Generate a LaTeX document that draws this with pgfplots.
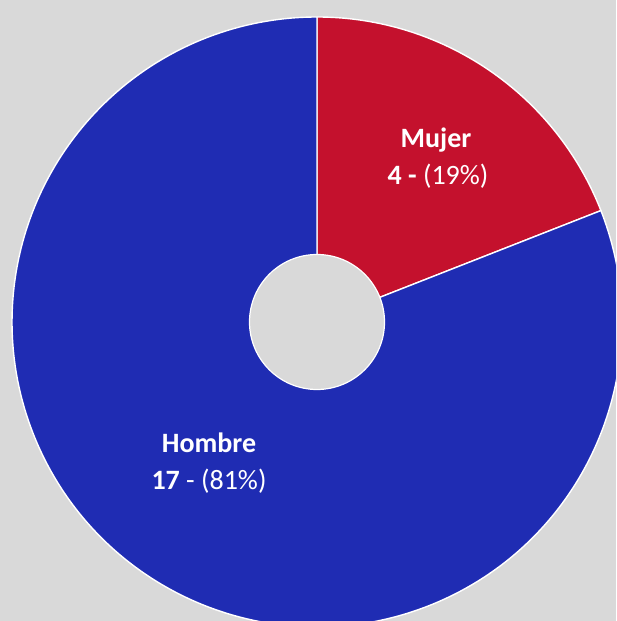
\documentclass[border=0pt]{standalone}
\usepackage{pgfplots}
\pgfplotsset{compat=1.18}
\usepackage{fontspec}
\setmainfont{Carlito}
\definecolor{bg}{HTML}{D9D9D9}
\definecolor{mujer}{HTML}{C4112D}
\definecolor{hombre}{HTML}{1F2CB3}
% values
\def\vmujer{4}
\def\vhombre{17}
\begin{document}
\begin{tikzpicture}
\useasboundingbox (0,0) rectangle (308pt,310.5pt);
\clip (0,0) rectangle (308pt,310.5pt);
\begin{axis}[
	at={(0,0)}, anchor=south west,
	scale only axis,
	width=308pt, height=310.5pt,
	xmin=0, xmax=616, ymin=0, ymax=621,
	hide axis,
	clip=false
]
\pgfmathsetmacro{\total}{\vmujer+\vhombre}
\pgfmathsetmacro{\amid}{90-360*\vmujer/\total}
\fill[bg] (axis cs:0,0) rectangle (axis cs:616,621);
% outer ring
\fill[mujer, draw=white, line width=0.7pt] (axis cs:317,299) -- ++(90:152.5pt)
	arc[start angle=90, end angle=\amid, radius=152.5pt] -- cycle;
\fill[hombre, draw=white, line width=0.7pt] (axis cs:317,299) -- ++(\amid:152.5pt)
	arc[start angle=\amid, end angle=-270, radius=152.5pt] -- cycle;
% hole
\fill[bg, draw=white, line width=0.6pt] (axis cs:317,299) circle[radius=33.75pt];
% labels
\node[anchor=base, text=white, font=\fontsize{14}{17}\selectfont\bfseries] at (axis cs:436,473) {Mujer};
\node[anchor=base, text=white, font=\fontsize{14}{17}\selectfont] at (axis cs:438,436) {\textbf{4 -} (19\%)};
\node[anchor=base, text=white, font=\fontsize{14}{17}\selectfont\bfseries] at (axis cs:209,168) {Hombre};
\node[anchor=base, text=white, font=\fontsize{14}{17}\selectfont] at (axis cs:209,131) {\textbf{17} - (81\%)};
\end{axis}
\end{tikzpicture}
\end{document}
